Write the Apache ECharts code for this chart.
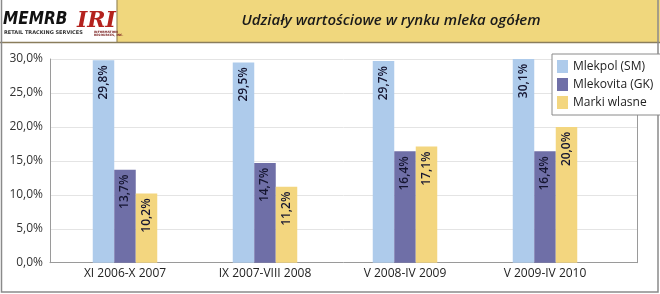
<!DOCTYPE html>
<html><head><meta charset="utf-8">
<script src="https://cdn.jsdelivr.net/npm/echarts@6/dist/echarts.min.js"></script>
<style>html,body{margin:0;padding:0;background:#fff}#c{width:660px;height:294px}</style>
</head><body><div id="c"></div>
<script>
const title = 'Udziały wartościowe w rynku mleka ogółem';
const categories = ['XI 2006-X 2007', 'IX 2007-VIII 2008', 'V 2008-IV 2009', 'V 2009-IV 2010'];
const seriesNames = ['Mlekpol (SM)', 'Mlekovita (GK)', 'Marki wlasne'];
const mlekpol = [29.8, 29.5, 29.7, 30.1];
const mlekovita = [13.7, 14.7, 16.4, 16.4];
const markiWlasne = [10.2, 11.2, 17.1, 20.0];
const colors = ['#aecbeb', '#6f6fa7', '#f3d67f'];
const yMin = 0, yMax = 30, yStep = 5;

const fmt = v => v.toFixed(1).replace('.', ',') + '%';
const FONT = 'Open Sans';
const chart = echarts.init(document.getElementById('c'), null, {renderer: 'canvas'});
const mkSeries = (name, data, i) => ({
  name, type: 'bar', data, xAxisIndex: 1, yAxisIndex: 2,
  barWidth: 21.5, barGap: '0%',
  itemStyle: {color: colors[i]},
  label: {show: true, position: 'insideTop', rotate: 90, align: 'right', verticalAlign: 'middle',
    distance: 5,
    formatter: p => fmt(p.value), fontFamily: FONT, fontSize: 12, fontWeight: 600, color: '#151530'}
});
chart.setOption({
  animation: false,
  textStyle: {fontFamily: FONT},
  grid: [
    {left: 50, right: 23, top: 59, bottom: 31.3},
    {left: 55, right: 45, top: 59, bottom: 31.3}
  ],
  xAxis: [
    {gridIndex: 0, type: 'category', data: categories, axisLine: {lineStyle: {color: '#9a9a9a'}}, axisTick: {show: false}, axisLabel: {show: false}},
    {gridIndex: 1, type: 'category', data: categories, axisLine: {show: false}, axisTick: {show: false},
      axisLabel: {fontFamily: FONT, fontSize: 12, color: '#222', margin: 5}}
  ],
  yAxis: [
    {gridIndex: 0, type: 'value', min: yMin, max: yMax, interval: yStep,
      axisLine: {show: true, lineStyle: {color: '#9a9a9a'}}, axisTick: {show: false},
      axisLabel: {formatter: fmt, fontFamily: FONT, fontSize: 12, color: '#333', margin: 7},
      splitLine: {lineStyle: {color: '#e4e4e4'}}},
    {gridIndex: 0, type: 'value', position: 'right', min: yMin, max: yMax, interval: yStep,
      axisLine: {show: true, lineStyle: {color: '#9a9a9a'}}, axisTick: {show: false}, axisLabel: {show: false}, splitLine: {show: false}},
    {gridIndex: 1, type: 'value', min: yMin, max: yMax, interval: yStep, show: false}
  ],
  legend: {
    orient: 'vertical', left: 552, top: 54, width: 104, height: 61,
    data: seriesNames, backgroundColor: '#fff', borderColor: '#8a8a8a', borderWidth: 1,
    padding: [6, 30, 6, 5], itemWidth: 11, itemHeight: 13, itemGap: 5, icon: 'rect',
    textStyle: {fontFamily: FONT, fontSize: 12, color: '#222'}, z: 10
  },
  series: [mkSeries(seriesNames[0], mlekpol, 0), mkSeries(seriesNames[1], mlekovita, 1), mkSeries(seriesNames[2], markiWlasne, 2)],
  graphic: [
    {type: 'rect', shape: {x: 117, y: 0, width: 543, height: 42}, style: {fill: '#f0d77d'}, z: -1},
    {type: 'line', shape: {x1: 117, y1: 0, x2: 117, y2: 42}, style: {stroke: '#9a8a5a', lineWidth: 1.2}},
    {type: 'line', shape: {x1: 0, y1: 42.5, x2: 660, y2: 42.5}, style: {stroke: '#8a7d5c', lineWidth: 1.5}},
    {type: 'rect', shape: {x: 1.5, y: -2, width: 656.5, height: 294}, style: {fill: 'none', stroke: '#8a8a8a', lineWidth: 1.5}},
    {type: 'text', x: 391, y: 21, style: {text: title, font: 'italic 600 15px "Open Sans"', fill: '#1a1a1a', align: 'center', verticalAlign: 'middle'}},
    {type: 'text', x: 3, y: 20, style: {text: 'MEMRB', font: 'italic 900 17px "DejaVu Sans Condensed"', fill: '#111', align: 'left', verticalAlign: 'middle'}},
    {type: 'text', x: 4, y: 33, style: {text: 'RETAIL TRACKING SERVICES', font: 'bold 5px "DejaVu Sans"', fill: '#333', align: 'left', verticalAlign: 'middle'}},
    {type: 'text', x: 77, y: 21, style: {text: 'IRI', font: 'italic bold 22px "DejaVu Serif"', fill: '#b4221e', align: 'left', verticalAlign: 'middle'}},
    {type: 'text', x: 94, y: 34, style: {text: 'INFORMATION\nRESOURCES, INC.', font: 'bold 3px "DejaVu Sans"', fill: '#7a2020', align: 'left', verticalAlign: 'middle'}}
  ]
});
</script></body></html>
